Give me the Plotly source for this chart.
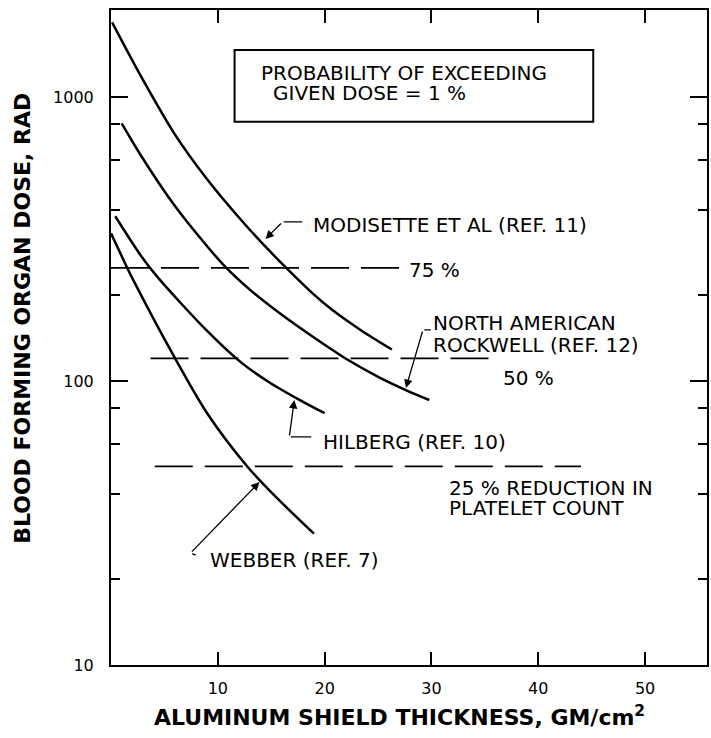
import math
import plotly.graph_objects as go

# Aluminium shield thickness (g/cm^2) vs blood-forming-organ dose (rad), 1 % probability curves
modisette_x = [0.1, 2.8, 5.9, 9.0, 12.2, 14.8, 16.5, 18.9, 20.7, 23.5, 26.3]
modisette_y = [1830, 1183, 746, 513, 368, 288, 248, 203, 178, 150, 129]

rockwell_x = [1.0, 2.8, 5.9, 9.0, 10.8, 13.1, 15.8, 18.9, 22.0, 25.1, 27.6, 29.8]
rockwell_y = [807, 622, 417, 298, 250, 208, 173, 143, 119.7, 103, 92.9, 85.7]

hilberg_x = [0.4, 2.8, 4.4, 9.0, 12.2, 14.8, 17.6, 20.0]
hilberg_y = [380, 276, 231, 150, 116, 99, 86, 77]

webber_x = [0.0, 1.5, 2.1, 5.9, 9.0, 12.8, 15.6, 19.0]
webber_y = [331, 251, 226, 122, 77, 49.8, 38.5, 29]

# Biological effect thresholds (dashed reference levels)
threshold_levels = [250, 120, 50]
threshold_x_start = [0.0, 3.7, 4.1]
threshold_x_end = [27.0, 36.1, 44.0]

x_tick_vals = [10, 20, 30, 40, 50]
y_tick_vals = [10, 100, 1000]
y_tick_text = ["10", "100", "1000"]
y_minor_vals = [20, 40, 60, 80, 200, 400, 600, 800]

FONT = "DejaVu Sans"
INK = "black"

fig = go.Figure()

for xs, ys in [(modisette_x, modisette_y), (rockwell_x, rockwell_y),
               (hilberg_x, hilberg_y), (webber_x, webber_y)]:
    fig.add_trace(go.Scatter(
        x=xs, y=ys, mode="lines",
        line=dict(color=INK, width=2.5, shape="spline", smoothing=0.8),
        showlegend=False, hoverinfo="skip"))

for lvl, x0, x1 in zip(threshold_levels, threshold_x_start, threshold_x_end):
    fig.add_trace(go.Scatter(
        x=[x0, x1], y=[lvl, lvl], mode="lines",
        line=dict(color=INK, width=1.8, dash="38px,12px"),
        showlegend=False, hoverinfo="skip"))

annotations = []


def label(text, x, y, size=20):
    annotations.append(dict(
        x=x, y=math.log10(y), xref="x", yref="y", text=text,
        showarrow=False, xanchor="left", yanchor="middle",
        font=dict(family=FONT, size=size, color=INK)))


def leader(x, y, ax, ay, head=True):
    annotations.append(dict(
        x=x, y=math.log10(y), xref="x", yref="y", text="",
        showarrow=True, ax=ax, ay=ay, axref="pixel", ayref="pixel",
        arrowhead=2 if head else 0, arrowsize=1.3, arrowwidth=1.3,
        arrowcolor=INK, standoff=0, startstandoff=0))


# Boxed heading
label("PROBABILITY OF EXCEEDING", 13.9, 10 ** 3.0845)
label("GIVEN DOSE = 1 %", 15.0, 10 ** 3.014)

# Curve labels with leaders
label("MODISETTE ET AL (REF. 11)", 18.75, 10 ** 2.549)
leader(14.46, 10 ** 2.5, 17, -17)
leader(17.91, 10 ** 2.5599, -20, 0, head=False)

label("NORTH AMERICAN", 29.94, 10 ** 2.204)
label("ROCKWELL (REF. 12)", 29.94, 10 ** 2.127)
leader(27.61, 10 ** 1.9754, 17, -58)
leader(29.94, 10 ** 2.1796, -8, 0, head=False)

label("HILBERG (REF. 10)", 19.68, 10 ** 1.785)
leader(17.16, 10 ** 1.933, -5, 37)
leader(18.75, 10 ** 1.803, -22, 0, head=False)

label("WEBBER (REF. 7)", 9.05, 10 ** 1.370)
leader(13.90, 10 ** 1.644, -69, 71)
leader(7.93, 10 ** 1.387, -5, -2, head=False)

# Threshold labels
label("75 %", 27.7, 10 ** 2.392)
label("50 %", 36.47, 10 ** 2.0106)
label("25 % REDUCTION IN", 31.44, 10 ** 1.623)
label("PLATELET COUNT", 31.44, 10 ** 1.553)

# Axis titles
annotations.append(dict(
    x=0.4833, y=-0.078, xref="paper", yref="paper",
    text="ALUMINUM SHIELD THICKNESS, GM/cm<sup>2</sup>", showarrow=False,
    xanchor="center", yanchor="middle",
    font=dict(family=FONT, size=22, color=INK, weight="bold")))
annotations.append(dict(
    x=-0.1488, y=0.529, xref="paper", yref="paper",
    text="BLOOD FORMING ORGAN DOSE, RAD", showarrow=False, textangle=-90,
    xanchor="center", yanchor="middle",
    font=dict(family=FONT, size=22, color=INK, weight="bold")))

fig.add_shape(type="rect", xref="x", yref="y",
              x0=11.57, x1=45.15, y0=817, y1=1464,
              line=dict(color=INK, width=2), fillcolor="rgba(0,0,0,0)")

fig.update_layout(
    width=711, height=738,
    margin=dict(l=111, r=2, t=10, b=73),
    paper_bgcolor="white", plot_bgcolor="white",
    showlegend=False,
    annotations=annotations,
    font=dict(family=FONT, color=INK),
)

fig.update_xaxes(
    range=[0, 55.8], showgrid=False, zeroline=False,
    showline=True, linecolor=INK, linewidth=2, mirror="ticks",
    tickmode="array", tickvals=x_tick_vals,
    ticks="inside", ticklen=13, tickwidth=2, tickcolor=INK,
    tickfont=dict(family=FONT, size=16, color=INK),
    ticklabelstandoff=8,
)

fig.update_yaxes(
    type="log", range=[1, 3.306], showgrid=False, zeroline=False,
    showline=True, linecolor=INK, linewidth=2, mirror="ticks",
    tickmode="array", tickvals=y_tick_vals, ticktext=y_tick_text,
    ticks="inside", ticklen=17, tickwidth=2, tickcolor=INK,
    tickfont=dict(family=FONT, size=16, color=INK),
    ticklabelstandoff=12,
    minor=dict(tickmode="array", tickvals=y_minor_vals, ticks="inside",
               ticklen=9, tickwidth=2, tickcolor=INK, showgrid=False),
)

fig.write_html("out.html")
